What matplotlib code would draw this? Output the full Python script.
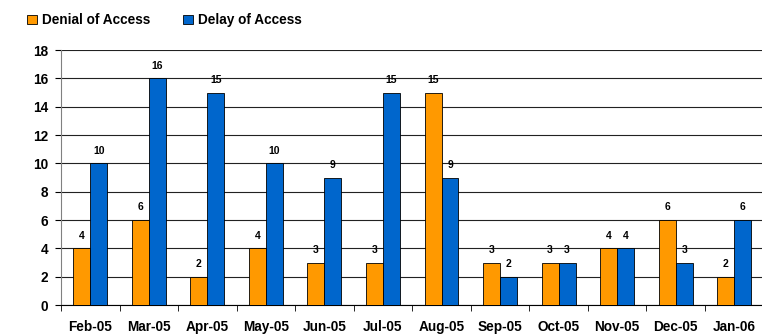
import numpy as np
import matplotlib.pyplot as plt

plt.rcParams['font.family'] = ['Liberation Sans', 'DejaVu Sans']
plt.rcParams['font.weight'] = 'bold'

months = ['Feb-05', 'Mar-05', 'Apr-05', 'May-05', 'Jun-05', 'Jul-05',
          'Aug-05', 'Sep-05', 'Oct-05', 'Nov-05', 'Dec-05', 'Jan-06']
denial = [4, 6, 2, 4, 3, 3, 15, 3, 3, 4, 6, 2]
delay = [10, 16, 15, 10, 9, 15, 9, 2, 3, 4, 3, 6]

fig = plt.figure(figsize=(7.62, 3.36), dpi=100)
ax = fig.add_axes([0.080, 0.092, 0.922, 0.759])

x = np.arange(len(months))
w = 0.29
b1 = ax.bar(x - w / 2, denial, w, color='#FF9900', edgecolor='black', linewidth=0.6,
            label='Denial of Access', zorder=3)
b2 = ax.bar(x + w / 2, delay, w, color='#0066CC', edgecolor='black', linewidth=0.6,
            label='Delay of Access', zorder=3)
for bars in (b1, b2):
    for r in bars:
        ax.text(r.get_x() + r.get_width() / 2, r.get_height() + 0.55, f'{int(r.get_height())}',
                ha='center', va='bottom', fontsize=7.5, fontweight='bold')

ax.set_xlim(-0.5, len(months) - 0.5)
ax.set_ylim(0, 18)
ax.set_yticks(range(0, 19, 2))
ax.set_xticks(np.arange(-0.5, len(months), 1), minor=True)
ax.set_xticks(x)
ax.set_xticklabels(months)
ax.tick_params(axis='x', which='major', length=0, pad=11, labelsize=9.8)
ax.tick_params(axis='x', which='minor', length=4, direction='out')
ax.tick_params(axis='y', length=4, direction='out', labelsize=9.8, pad=5)
ax.yaxis.grid(True, color='#222222', linewidth=0.8, zorder=0)
ax.set_axisbelow(True)
for s in ['top', 'right']:
    ax.spines[s].set_visible(False)
ax.spines['left'].set_color('#808080')
ax.spines['bottom'].set_color('black')

fig.legend(handles=[b1, b2], loc='center left', bbox_to_anchor=(0.036, 0.94), ncol=2,
           frameon=False, fontsize=9.8, handlelength=0.7, handleheight=0.7,
           handletextpad=0.35, columnspacing=2.45, borderaxespad=0, borderpad=0)

fig.savefig('out.png', dpi=100)
